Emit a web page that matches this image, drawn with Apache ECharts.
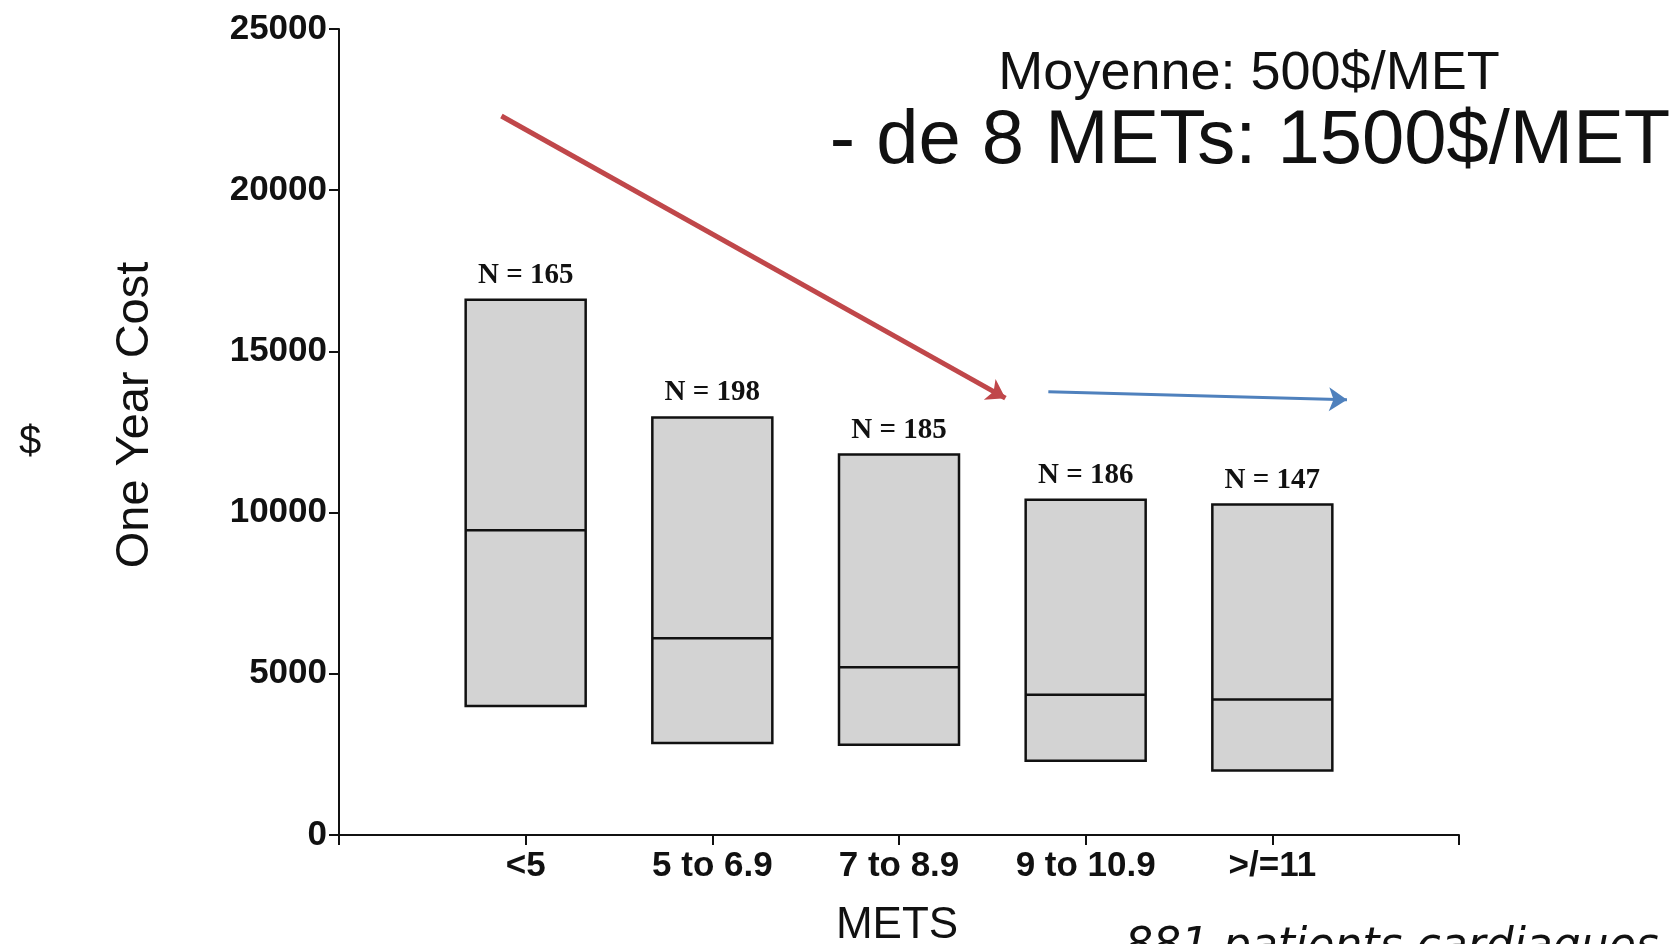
<!DOCTYPE html>
<html><head><meta charset="utf-8">
<script src="https://cdn.jsdelivr.net/npm/echarts@6/dist/echarts.min.js"></script>
<style>html,body{margin:0;background:#fff}#c{width:1680px;height:944px}</style>
</head><body><div id="c"></div>
<script>
var categories = ['<5', '5 to 6.9', '7 to 8.9', '9 to 10.9', '>/=11']
var lowVals = [4000, 2850, 2800, 2300, 2000]
var medianVals = [9450, 6100, 5200, 4350, 4200]
var highVals = [16600, 12950, 11800, 10400, 10250]
var nLabels = ['N = 165', 'N = 198', 'N = 185', 'N = 186', 'N = 147']
// flèches : [x0, y0, x1, y1] en unités d'axes
var redArrow = [0.87, 22300, 3.57, 13550]
var blueArrow = [3.8, 13750, 5.4, 13500]

var chart = echarts.init(document.getElementById('c'))
var boxData = categories.map(function (c, i) { return [i + 1, lowVals[i], medianVals[i], highVals[i]] })

chart.setOption({
  animation: false,
  grid: { left: 339, top: 29, right: 221, bottom: 109 },
  xAxis: {
    type: 'value', min: 0, max: 6, interval: 1,
    axisLine: { lineStyle: { color: '#111', width: 2 } },
    axisTick: { length: 10, lineStyle: { color: '#111', width: 2 } },
    splitLine: { show: false },
    axisLabel: {
      margin: 14, color: '#111', fontSize: 35, fontWeight: 'bold', fontFamily: 'Liberation Sans',
      formatter: function (v) { return categories[v - 1] || '' }
    }
  },
  yAxis: {
    type: 'value', min: 0, max: 25000, interval: 5000,
    axisLine: { show: true, lineStyle: { color: '#111', width: 2 } },
    axisTick: { show: true, inside: false, length: 10, lineStyle: { color: '#111', width: 2 } },
    splitLine: { show: false },
    axisLabel: { margin: 12, color: '#111', fontSize: 35, fontWeight: 'bold', fontFamily: 'Liberation Sans',
      formatter: function (v) { return String(v) } }
  },
  series: [{
    type: 'custom',
    data: boxData,
    renderItem: function (params, api) {
      var x = api.value(0)
      var lo = api.coord([x, api.value(1)])
      var md = api.coord([x, api.value(2)])
      var hi = api.coord([x, api.value(3)])
      var w = 120
      return {
        type: 'group', children: [
          { type: 'rect', shape: { x: lo[0] - w / 2, y: hi[1], width: w, height: lo[1] - hi[1] },
            style: { fill: '#d3d3d3', stroke: '#111', lineWidth: 2.5 } },
          { type: 'line', shape: { x1: md[0] - w / 2, y1: md[1], x2: md[0] + w / 2, y2: md[1] },
            style: { stroke: '#111', lineWidth: 2.5 } },
          { type: 'text', x: hi[0], y: hi[1] - 10,
            style: { text: nLabels[params.dataIndex], align: 'center', verticalAlign: 'bottom',
              fill: '#111', font: 'bold 29px "Liberation Serif"' } }
        ]
      }
    }
  }, {
    type: 'lines', coordinateSystem: 'cartesian2d', symbol: ['none', 'arrow'], symbolSize: 18,
    data: [
      { coords: [[redArrow[0], redArrow[1]], [redArrow[2], redArrow[3]]], lineStyle: { color: '#c0474a', width: 5 } },
      { coords: [[blueArrow[0], blueArrow[1]], [blueArrow[2], blueArrow[3]]], lineStyle: { color: '#4f81bd', width: 3 } }
    ],
    lineStyle: { curveness: 0, opacity: 1 }
  }],
  graphic: [
    { type: 'text', x: 1249, y: 74, style: { text: 'Moyenne: 500$/MET', align: 'center', verticalAlign: 'middle', fill: '#111', font: '54px "Liberation Sans"' } },
    { type: 'text', x: 1250, y: 142, style: { text: '- de 8 METs: 1500$/MET', align: 'center', verticalAlign: 'middle', fill: '#111', font: '76px "Liberation Sans"' } },
    { type: 'text', x: 30, y: 443, style: { text: '$', align: 'center', verticalAlign: 'middle', fill: '#111', font: '40px "Liberation Sans"' } },
    { type: 'text', x: 135, y: 415, rotation: Math.PI / 2, style: { text: 'One Year Cost', align: 'center', verticalAlign: 'middle', fill: '#111', font: '47px "Liberation Sans"' } },
    { type: 'text', x: 897, y: 926, style: { text: 'METS', align: 'center', verticalAlign: 'middle', fill: '#111', font: '44px "Liberation Sans"' } },
    { type: 'text', x: 1125, y: 948, style: { text: '881 patients cardiaques', align: 'left', verticalAlign: 'middle', fill: '#111', font: 'italic 44px "DejaVu Sans"' } }
  ]
})
</script></body></html>
